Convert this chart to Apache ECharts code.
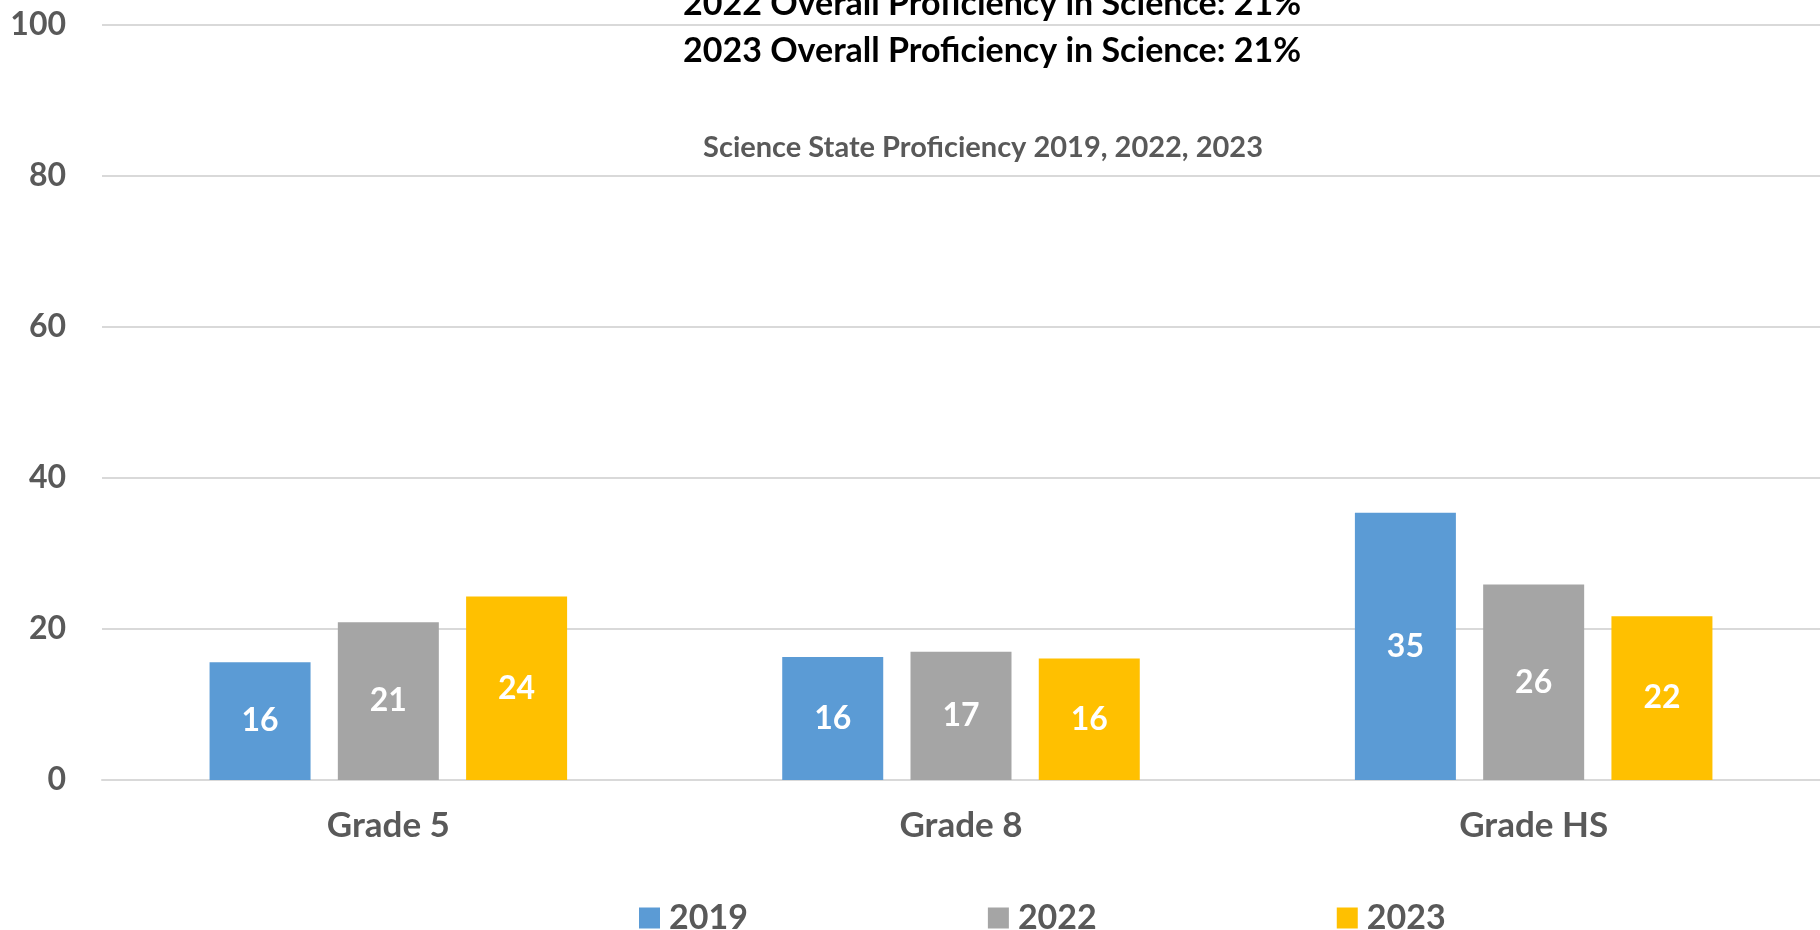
<!DOCTYPE html>
<html lang="en">
<head>
    <meta charset="UTF-8">
    <title>Science State Proficiency</title>
    <style type="text/css">
        *{
            margin: 0;
            padding: 0;
        }
        #main{
            width: 1820px;
            height: 930px;
            position: absolute;
            background: #ffffff;
        }
    </style>
</head>
<body>
    <div id="main"></div>
    <script src="https://cdn.jsdelivr.net/npm/echarts@6/dist/echarts.min.js"></script>
    <script type="text/javascript">
        // data
        var categories = ['Grade 5', 'Grade 8', 'Grade HS'];
        var years = ['2019', '2022', '2023'];
        var v2019 = [15.6, 16.3, 35.4];
        var v2022 = [20.9, 17.0, 25.9];
        var v2023 = [24.3, 16.1, 21.7];
        var yTicks = [0, 20, 40, 60, 80, 100];
        var titleLines = [
            '2022 Overall Proficiency in Science: 21%',
            '2023 Overall Proficiency in Science: 21%'
        ];
        var subTitle = 'Science State Proficiency 2019, 2022, 2023';

        var fontFamily = 'Lato, "Open Sans", sans-serif';
        var grey = '#595959';
        var colors = ['#5B9BD5', '#A5A5A5', '#FFC000'];

        var myChart = echarts.init(document.getElementById('main'));

        function barSeries(name, data, color) {
            return {
                name: name,
                type: 'bar',
                data: data,
                barWidth: 101,
                barGap: '27%',
                itemStyle: {
                    color: color
                },
                label: {
                    show: true,
                    position: 'inside',
                    color: '#ffffff',
                    fontFamily: fontFamily,
                    fontWeight: 'bold',
                    fontSize: 32,
                    formatter: function (p) {
                        return Math.round(p.value);
                    }
                }
            };
        }

        var option = {
            animation: false,
            color: colors,
            title: [
                {
                    text: titleLines.join('\n'),
                    left: 987,
                    textAlign: 'center',
                    top: -24,
                    textStyle: {
                        color: '#000000',
                        fontFamily: fontFamily,
                        fontWeight: 'bold',
                        fontSize: 34,
                        lineHeight: 47
                    }
                },
                {
                    text: subTitle,
                    left: 978,
                    textAlign: 'center',
                    top: 128,
                    textStyle: {
                        color: grey,
                        fontFamily: fontFamily,
                        fontWeight: 'bold',
                        fontSize: 29
                    }
                }
            ],
            legend: {
                data: years,
                left: 634,
                top: 896,
                itemWidth: 21,
                itemHeight: 21,
                itemGap: 240,
                icon: 'rect',
                textStyle: {
                    color: grey,
                    fontFamily: fontFamily,
                    fontWeight: 'bold',
                    fontSize: 34,
                    padding: [0, 0, 0, 4]
                }
            },
            grid: {
                left: 102,
                top: 25,
                width: 1726,
                height: 755,
                containLabel: false
            },
            xAxis: {
                type: 'category',
                data: categories,
                axisTick: { show: false },
                axisLine: {
                    lineStyle: { color: '#D9D9D9', width: 2 }
                },
                axisLabel: {
                    color: grey,
                    fontFamily: fontFamily,
                    fontWeight: 'bold',
                    fontSize: 35,
                    margin: 28
                }
            },
            yAxis: {
                type: 'value',
                min: yTicks[0],
                max: yTicks[yTicks.length - 1],
                interval: 20,
                axisLine: { show: false },
                axisTick: { show: false },
                splitLine: {
                    lineStyle: { color: '#D9D9D9', width: 2 }
                },
                axisLabel: {
                    color: grey,
                    fontFamily: fontFamily,
                    fontWeight: 'bold',
                    fontSize: 32,
                    margin: 36
                }
            },
            series: [
                barSeries(years[0], v2019, colors[0]),
                barSeries(years[1], v2022, colors[1]),
                barSeries(years[2], v2023, colors[2])
            ]
        };

        myChart.setOption(option);
    </script>
</body>
</html>
